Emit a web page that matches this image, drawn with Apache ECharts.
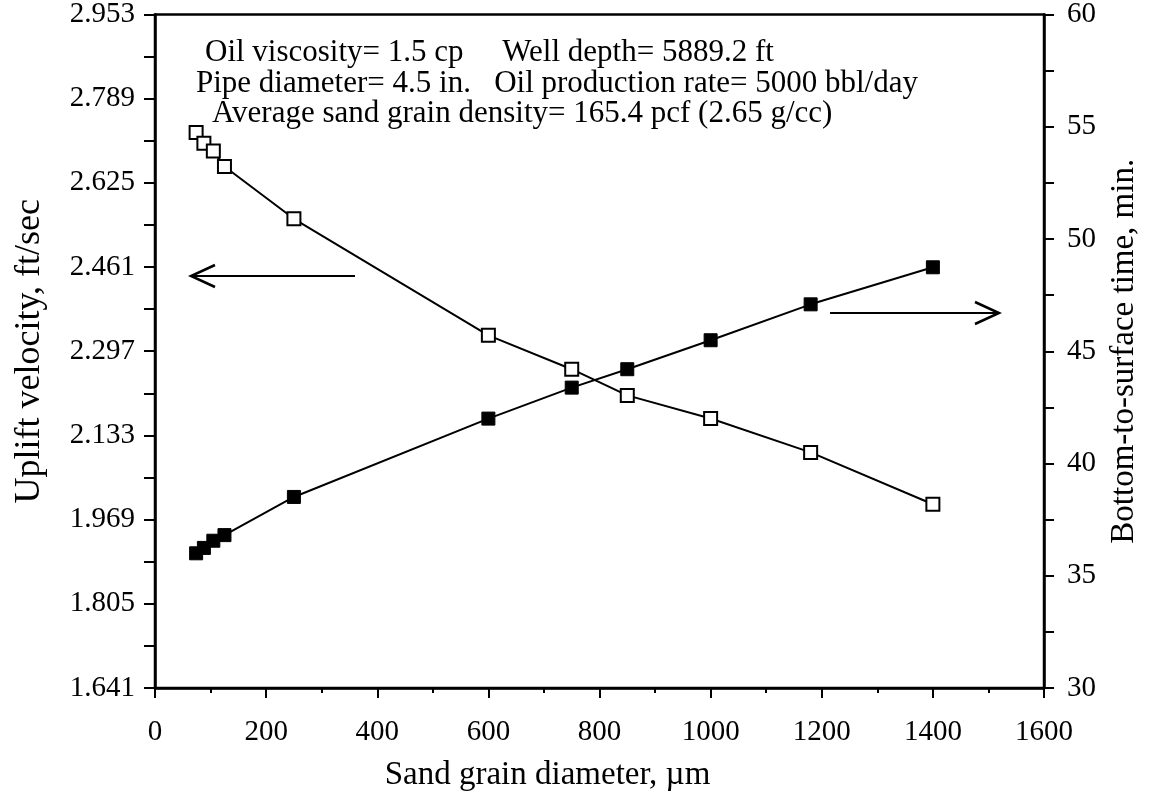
<!DOCTYPE html>
<html><head><meta charset="utf-8">
<script src="https://cdn.jsdelivr.net/npm/echarts@6/dist/echarts.min.js"></script>
<style>html,body{margin:0;padding:0;background:#fff}#c{width:1149px;height:798px}</style>
</head><body><div id="c"></div>
<script>
// Data
const diameters = [74, 88, 105, 125, 250, 600, 750, 850, 1000, 1180, 1400];
const upliftVelocity = [2.723, 2.702, 2.687, 2.657, 2.555, 2.328, 2.262, 2.211, 2.166, 2.100, 1.999];
const surfaceTime = [36.0, 36.24, 36.56, 36.81, 38.51, 42.0, 43.38, 44.2, 45.49, 47.09, 48.74];
const leftTickLabels = [1.641, 1.805, 1.969, 2.133, 2.297, 2.461, 2.625, 2.789, 2.953];
const annotations = [
  'Oil viscosity= 1.5 cp     Well depth= 5889.2 ft',
  'Pipe diameter= 4.5 in.   Oil production rate= 5000 bbl/day',
  'Average sand grain density= 165.4 pcf (2.65 g/cc)'
];

const leftTickMarks = [];
for (let i = 0; i < leftTickLabels.length; i++) {
  leftTickMarks.push(leftTickLabels[i]);
  if (i < leftTickLabels.length - 1) leftTickMarks.push((leftTickLabels[i] + leftTickLabels[i + 1]) / 2);
}

const F = '"Liberation Serif", "Times New Roman", serif';
const chart = echarts.init(document.getElementById('c'));
const axisLine = { show: true, lineStyle: { color: '#000', width: 2.5 } };
const tick = { show: true, inside: false, length: 11, lineStyle: { color: '#000', width: 2 } };
const labelFont = { fontFamily: F, fontSize: 29, color: '#000' };
const titleFont = { fontFamily: F, fontSize: 33, color: '#000' };

chart.setOption({
  animation: false,
  backgroundColor: '#fff',
  grid: { left: 155, right: 103, top: 14, bottom: 110, show: true, borderColor: '#000', borderWidth: 2.5, backgroundColor: 'transparent' },
  xAxis: {
    type: 'value', min: 0, max: 1600, interval: 200,
    axisLine: axisLine, axisTick: Object.assign({}, tick, { length: 10 }),
    minorTick: { show: true, splitNumber: 2, length: 5, lineStyle: { color: '#000', width: 2 } },
    splitLine: { show: false },
    axisLabel: Object.assign({ margin: 30, formatter: v => String(v) }, labelFont),
    name: 'Sand grain diameter, µm', nameLocation: 'middle', nameGap: 71,
    nameTextStyle: Object.assign({ padding: [0, 104, 0, 0] }, titleFont)
  },
  yAxis: [
    {
      type: 'value', position: 'left', min: 1.641, max: 2.953,
      axisLine: axisLine,
      axisTick: Object.assign({}, tick, { customValues: leftTickMarks }),
      splitLine: { show: false },
      axisLabel: Object.assign({ customValues: leftTickLabels, formatter: v => v.toFixed(3), margin: 20 }, labelFont),
      name: 'Uplift velocity, ft/sec', nameLocation: 'middle', nameGap: 107,
      nameTextStyle: { fontFamily: F, fontSize: 36, color: '#000' }
    },
    {
      type: 'value', position: 'right', min: 30, max: 60, interval: 5,
      axisLine: axisLine, axisTick: Object.assign({}, tick, { length: 10 }),
      minorTick: { show: true, splitNumber: 2, length: 10, lineStyle: { color: '#000', width: 2 } },
      splitLine: { show: false },
      axisLabel: Object.assign({ margin: 23 }, labelFont),
      name: 'Bottom-to-surface time, min.', nameLocation: 'middle', nameGap: 64,
      nameTextStyle: titleFont
    }
  ],
  series: [
    {
      type: 'line', yAxisIndex: 0,
      data: diameters.map((d, i) => [d, upliftVelocity[i]]),
      symbol: 'rect', symbolSize: 13,
      lineStyle: { color: '#000', width: 2 },
      itemStyle: { color: '#fff', borderColor: '#000', borderWidth: 2 },
      z: 3
    },
    {
      type: 'line', yAxisIndex: 1,
      data: diameters.map((d, i) => [d, surfaceTime[i]]),
      symbol: 'rect', symbolSize: 13,
      lineStyle: { color: '#000', width: 2 },
      itemStyle: { color: '#000', borderColor: '#000', borderWidth: 1 },
      z: 3
    }
  ],
  graphic: [
    { type: 'text', x: 205, y: 53, style: { text: annotations[0], font: '31px ' + F, fill: '#000', verticalAlign: 'middle' } },
    { type: 'text', x: 196, y: 84, style: { text: annotations[1], font: '31px ' + F, fill: '#000', verticalAlign: 'middle' } },
    { type: 'text', x: 212, y: 114, style: { text: annotations[2], font: '31px ' + F, fill: '#000', verticalAlign: 'middle' } },
    { type: 'line', shape: { x1: 355, y1: 276, x2: 192, y2: 276 }, style: { stroke: '#000', lineWidth: 2 } },
    { type: 'polyline', shape: { points: [[215, 265], [191, 276], [215, 287]] }, style: { stroke: '#000', lineWidth: 2.5, fill: null } },
    { type: 'line', shape: { x1: 830, y1: 313, x2: 998, y2: 313 }, style: { stroke: '#000', lineWidth: 2 } },
    { type: 'polyline', shape: { points: [[975, 302], [999, 313], [975, 324]] }, style: { stroke: '#000', lineWidth: 2.5, fill: null } }
  ]
});
</script></body></html>
